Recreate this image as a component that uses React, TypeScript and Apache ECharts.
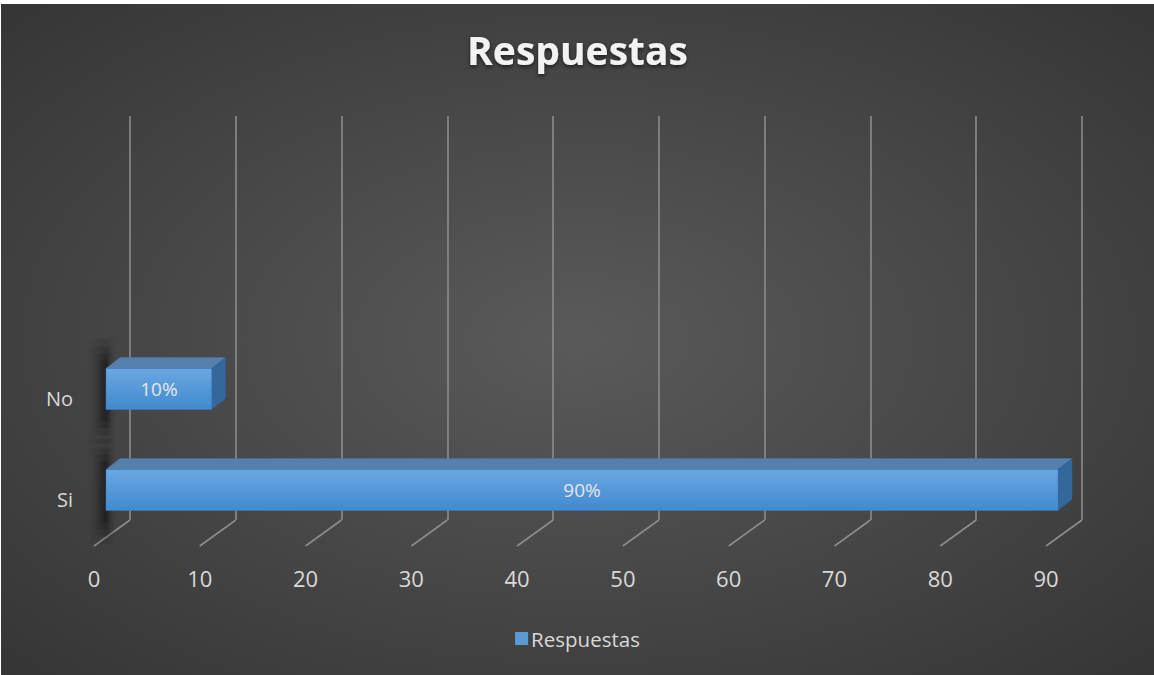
import React, { useEffect, useRef } from "react";
import * as echarts from "echarts";

const TITLE = "Respuestas";
const SERIES_NAME = "Respuestas";
const CATEGORIES = ["Si", "No"];
const VALUES = [90, 10];
const VALUE_LABELS = ["90%", "10%"];
const X_TICKS = [0, 10, 20, 30, 40, 50, 60, 70, 80, 90];

const W = 1153;
const H = 671;
const GRID_COLOR = "#8c8c8c";
const TEXT_COLOR = "#d9d9d9";
const FONT = "'Open Sans', 'Noto Sans', sans-serif";
const DEPTH_X = 14;
const DEPTH_Y = -11;
const BAR_H = 41;
const FLOOR_DX = -36;
const FLOOR_DY = 26;

export default function App() {
  const ref = useRef<HTMLDivElement>(null);
  useEffect(() => {
    document.body.style.margin = "0";
    const chart = echarts.init(ref.current!, null, { renderer: "svg" });
    const option: any = {
      animation: false,
      backgroundColor: {
        type: "radial",
        x: 0.5,
        y: 0.5,
        r: 1,
        colorStops: [
          { offset: 0, color: "#5a5a5a" },
          { offset: 1, color: "#262626" },
        ],
      },
      title: {
        text: TITLE,
        left: "center",
        top: 21,
        textStyle: {
          fontFamily: FONT,
          fontSize: 39,
          fontWeight: "bold",
          color: "#f2f2f2",
          textShadowColor: "rgba(0,0,0,0.6)",
          textShadowBlur: 4,
          textShadowOffsetY: 2,
        },
      },
      legend: {
        bottom: 21,
        left: "center",
        icon: "rect",
        itemWidth: 13,
        itemHeight: 13,
        itemGap: 7,
        data: [SERIES_NAME],
        textStyle: { fontFamily: FONT, fontSize: 20.5, color: TEXT_COLOR, padding: [0, 0, 0, -2] },
      },
      grid: [
        { left: 129, right: 72, top: 112, bottom: 155 },
        { left: 105, right: 96, top: 334.5, bottom: 134.5 },
      ],
      xAxis: [
        {
          gridIndex: 0,
          type: "value",
          min: 0,
          max: 90,
          interval: 10,
          axisLine: { show: false },
          axisTick: { show: false },
          splitLine: { show: true, lineStyle: { color: GRID_COLOR, width: 1.6 } },
          axisLabel: {
            show: true,
            margin: 47,
            padding: [0, 72, 0, 0],
            fontFamily: FONT,
            fontSize: 22,
            color: TEXT_COLOR,
          },
        },
        {
          gridIndex: 1,
          type: "value",
          min: 0,
          max: 90,
          show: false,
          splitLine: { show: false },
        },
      ],
      yAxis: [
        { gridIndex: 0, type: "value", min: 0, max: 1, show: false, splitLine: { show: false } },
        {
          gridIndex: 1,
          type: "category",
          data: CATEGORIES,
          axisLine: { show: false },
          axisTick: { show: false },
          splitLine: { show: false },
          axisLabel: {
            margin: 33,
            verticalAlign: "top",
            lineHeight: 18,
            fontFamily: FONT,
            fontSize: 20,
            color: TEXT_COLOR,
          },
        },
      ],
      series: [
        {
          type: "custom",
          name: "floor",
          xAxisIndex: 0,
          yAxisIndex: 0,
          silent: true,
          data: X_TICKS.map((t) => [t, 0]),
          renderItem: (params: any, api: any) => {
            const p = api.coord([api.value(0), 0]);
            return {
              type: "line",
              shape: { x1: p[0], y1: p[1], x2: p[0] + FLOOR_DX, y2: p[1] + FLOOR_DY },
              style: { stroke: GRID_COLOR, lineWidth: 1.6 },
            };
          },
        },
        {
          type: "custom",
          name: SERIES_NAME,
          xAxisIndex: 1,
          yAxisIndex: 1,
          itemStyle: { color: "#5b9bd5" },
          data: VALUES.map((v, i) => [v, i]),
          renderItem: (params: any, api: any) => {
            const cat = api.value(1);
            const start = api.coord([0, cat]);
            const end = api.coord([api.value(0), cat]);
            const x0 = start[0];
            const x1 = end[0];
            const y0 = end[1] - BAR_H / 2;
            const y1 = y0 + BAR_H;
            const label = VALUE_LABELS[params.dataIndex];
            const shadowFill = (a: number) => ({
              type: "linear",
              x: 0,
              y: 0,
              x2: 1,
              y2: 0,
              colorStops: [
                { offset: 0, color: "rgba(0,0,0,0)" },
                { offset: 0.65, color: `rgba(0,0,0,${a})` },
                { offset: 1, color: "rgba(0,0,0,0)" },
              ],
            });
            const layers = [
              [32, 64, 0.12],
              [26, 48, 0.15],
              [20, 34, 0.18],
              [14, 20, 0.2],
            ];
            const shadows = layers.map(([w, extra, a]) => ({
              type: "rect",
              shape: { x: x0 - w * 0.65, y: y0 + 2 - extra / 2, width: w, height: BAR_H + extra },
              style: { fill: shadowFill(a) },
            }));
            return {
              type: "group",
              children: [
                ...shadows,
                {
                  type: "polygon",
                  shape: {
                    points: [
                      [x0, y0],
                      [x0 + DEPTH_X, y0 + DEPTH_Y],
                      [x1 + DEPTH_X, y0 + DEPTH_Y],
                      [x1, y0],
                    ],
                  },
                  style: { fill: "#5580ad", stroke: "#4a72a0", lineWidth: 0.5 },
                },
                {
                  type: "polygon",
                  shape: {
                    points: [
                      [x1, y0],
                      [x1 + DEPTH_X, y0 + DEPTH_Y],
                      [x1 + DEPTH_X, y1 + DEPTH_Y],
                      [x1, y1],
                    ],
                  },
                  style: { fill: "#34689c", stroke: "#2f5d8c", lineWidth: 0.5 },
                },
                {
                  type: "rect",
                  shape: { x: x0, y: y0, width: x1 - x0, height: BAR_H },
                  style: {
                    fill: {
                      type: "linear",
                      x: 0,
                      y: 0,
                      x2: 0,
                      y2: 1,
                      colorStops: [
                        { offset: 0, color: "#6aa6e2" },
                        { offset: 1, color: "#418acf" },
                      ],
                    },
                    stroke: "#3f7fc0",
                    lineWidth: 0.5,
                  },
                },
                {
                  type: "text",
                  style: {
                    text: label,
                    x: (x0 + x1) / 2,
                    y: (y0 + y1) / 2,
                    align: "center",
                    verticalAlign: "middle",
                    fontFamily: FONT,
                    fontSize: 19,
                    fill: "#e6e6e6",
                  },
                },
              ],
            };
          },
        },
      ],
    };
    chart.setOption(option);
    return () => chart.dispose();
  }, []);
  return (
    <div style={{ position: "relative", width: 1154, height: 675, background: "#ffffff" }}>
      <div ref={ref} style={{ position: "absolute", left: 1, top: 4, width: W, height: H }} />
    </div>
  );
}
